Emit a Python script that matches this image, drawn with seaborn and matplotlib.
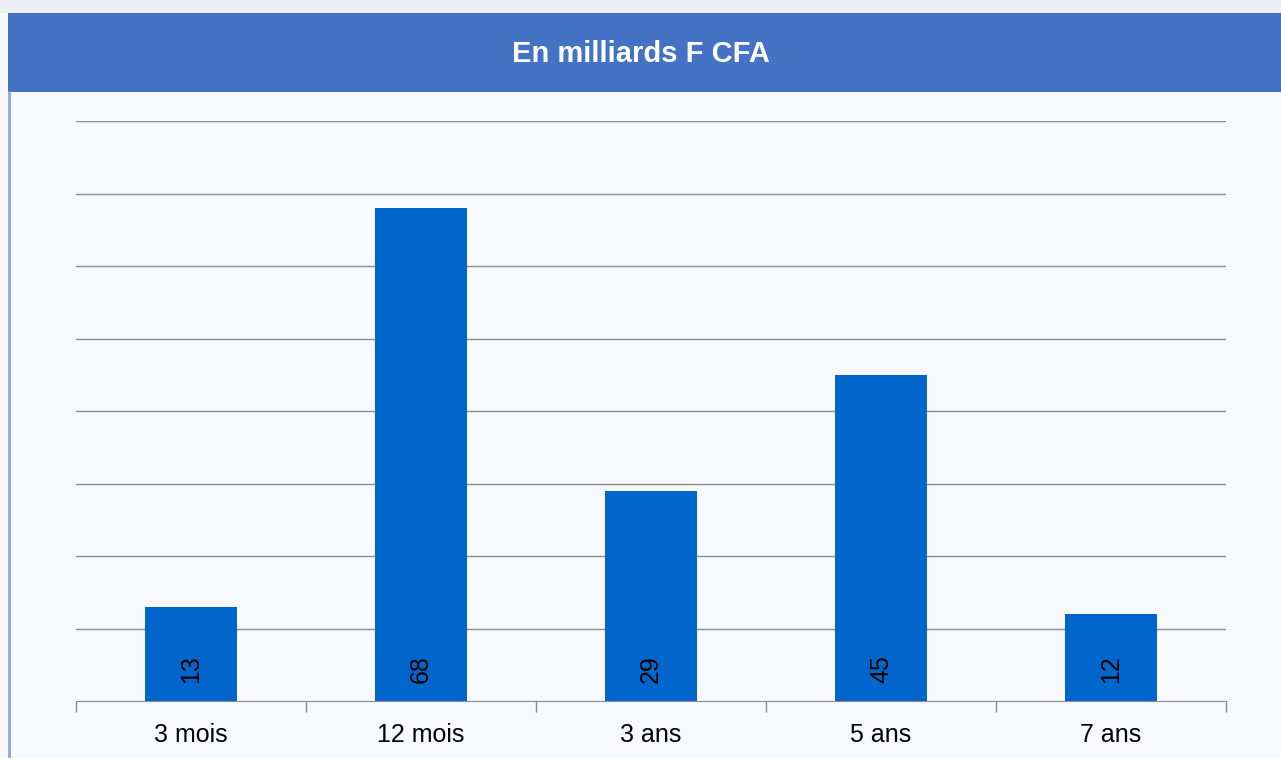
import numpy as np
import pandas as pd
import seaborn as sns
import matplotlib.pyplot as plt
from matplotlib.patches import Rectangle
from matplotlib.lines import Line2D

sns.set_style("white")
plt.rcParams['font.family'] = ['Liberation Sans', 'DejaVu Sans']

categories = ['3 mois', '12 mois', '3 ans', '5 ans', '7 ans']
values = [13, 68, 29, 45, 12]
title = 'En milliards F CFA'

df = pd.DataFrame({'Maturite': categories, 'Montant': values})

fig = plt.figure(figsize=(12.81, 7.58), dpi=100)
fig.patch.set_facecolor('#f8f9fc')

# top strip, title band and left border
fig.patches.append(Rectangle((0, 1 - 13/758), 1, 13/758, transform=fig.transFigure,
                             facecolor='#eceff5', edgecolor='none', zorder=0))
fig.patches.append(Rectangle((8/1281, 1 - 92/758), 1 - 8/1281, 79/758, transform=fig.transFigure,
                             facecolor='#4472c4', edgecolor='none', zorder=1))
fig.lines.append(Line2D([8.5/1281, 8.5/1281], [0, 1 - 92/758], transform=fig.transFigure,
                        color='#8eaadb', lw=2))
fig.text(0.5, 1 - 54/758, title, ha='center', va='center', color='white',
         fontsize=21, fontweight='bold')

ax = fig.add_axes([76/1281, 57/758, 1150/1281, 580/758])
ax.set_facecolor('none')

sns.barplot(data=df, x='Maturite', y='Montant', color='#0066cc', width=0.4,
            saturation=1, linewidth=0, ax=ax, zorder=3)

ax.set_ylim(0, 80)
ax.set_xlim(-0.5, 4.5)
ax.set_yticks(np.arange(10, 81, 10))
ax.yaxis.grid(True, color='#8c8c8c', lw=1)
ax.set_axisbelow(True)
ax.tick_params(axis='y', left=False, labelleft=False)
ax.set_xlabel('')
ax.set_ylabel('')
for s in ['top', 'right', 'left']:
    ax.spines[s].set_visible(False)
ax.spines['bottom'].set_color('#8c8c8c')
ax.set_xticks(np.arange(-0.5, 5, 1), minor=True)
ax.tick_params(axis='x', which='minor', bottom=True, length=8, color='#8c8c8c', width=1)
ax.tick_params(axis='x', which='major', bottom=False, length=0, labelsize=18,
               labelcolor='black', pad=16)

for i, v in enumerate(values):
    ax.text(i, 2.5, str(v), rotation=90, ha='center', va='bottom', fontsize=18, color='black')

fig.savefig('out.png', dpi=100, facecolor=fig.get_facecolor())
